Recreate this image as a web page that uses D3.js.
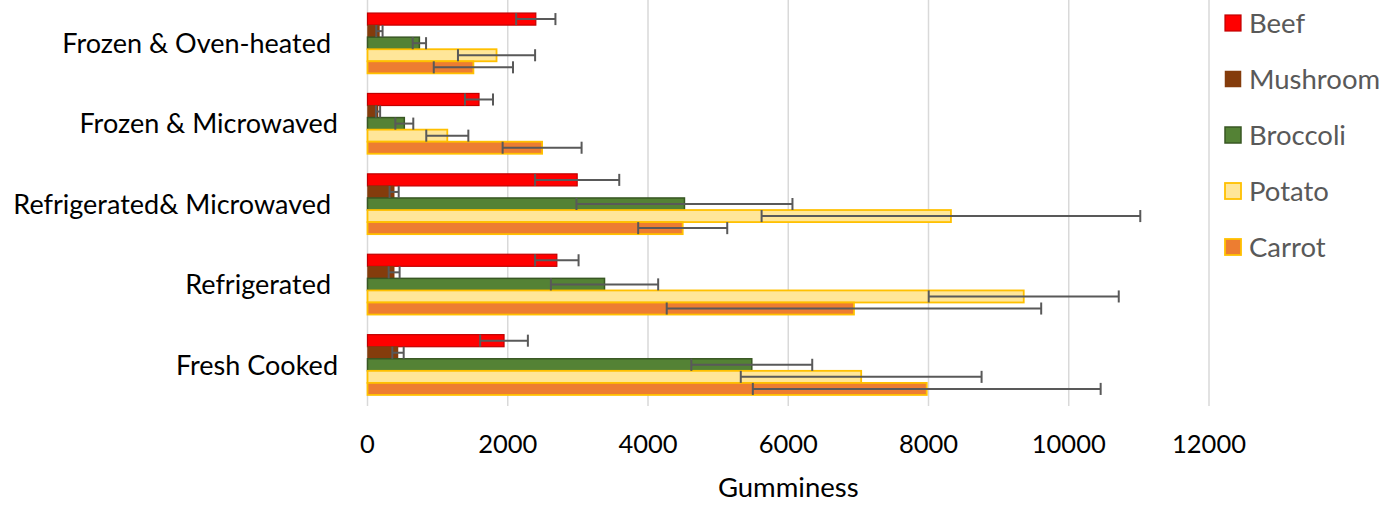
<!DOCTYPE html>
<html>
<head>
<meta charset="utf-8">
<script src="https://cdn.jsdelivr.net/npm/d3@7"></script>
<style>
  html, body { margin: 0; padding: 0; background: #fff; }
  svg { display: block; font-family: Lato, "Open Sans", sans-serif; }
  text { white-space: pre; }
</style>
</head>
<body>
<svg id="chart" width="1384" height="505"></svg>
<script>
// ---- Data ----
const categories = ["Frozen & Oven-heated ", "Frozen & Microwaved", "Refrigerated& Microwaved ", "Refrigerated ", "Fresh Cooked"];
const seriesNames = ["Beef", "Mushroom", "Broccoli", "Potato", "Carrot"];

const beef        = [2400, 1590, 2990, 2700, 1947];
const beefErr     = [280, 200, 600, 310, 340];
const mushroom    = [170, 150, 380, 380, 435];
const mushroomErr = [45, 30, 65, 78, 81];
const broccoli    = [740, 525, 4520, 3380, 5480];
const broccoliErr = [95, 128, 1540, 765, 862];
const potato      = [1840, 1138, 8320, 9358, 7040];
const potatoErr   = [550, 300, 2700, 1355, 1717];
const carrot      = [1510, 2490, 4495, 6937, 7975];
const carrotErr   = [565, 563, 635, 2670, 2480];

const xTicks = [0, 2000, 4000, 6000, 8000, 10000, 12000];
const axisTitle = "Gumminess";

// ---- Styles ----
const styles = {
  Beef:     { fill: "#FF0000", stroke: "#C00000", sw: 1.2 },
  Mushroom: { fill: "#843C0C", stroke: "#843C0C", sw: 0.5 },
  Broccoli: { fill: "#548235", stroke: "#385723", sw: 1.5 },
  Potato:   { fill: "#FFE699", stroke: "#FFC000", sw: 1.8 },
  Carrot:   { fill: "#ED7D31", stroke: "#FFC000", sw: 1.8 }
};

const seriesData = [
  { name: "Beef", values: beef, errs: beefErr },
  { name: "Mushroom", values: mushroom, errs: mushroomErr },
  { name: "Broccoli", values: broccoli, errs: broccoliErr },
  { name: "Potato", values: potato, errs: potatoErr },
  { name: "Carrot", values: carrot, errs: carrotErr }
];

// ---- Layout ----
const svg = d3.select("#chart");
const plot = { left: 367.5, right: 1209, top: 3, bottom: 405 };

const x = d3.scaleLinear().domain([0, 12000]).range([plot.left, plot.right]);
const y0 = d3.scaleBand().domain(categories).range([plot.top, plot.bottom])
  .paddingInner(0.25).paddingOuter(0.125);
const y1 = d3.scaleBand().domain(seriesNames).range([0, y0.bandwidth()]);

// Gridlines
svg.append("g").selectAll("line").data(xTicks).join("line")
  .attr("x1", d => x(d)).attr("x2", d => x(d))
  .attr("y1", 0).attr("y2", 406)
  .attr("stroke", "#D9D9D9").attr("stroke-width", 1.5);

// Bars
const barsG = svg.append("g");
seriesData.forEach(s => {
  const st = styles[s.name];
  barsG.append("g").selectAll("rect").data(categories).join("rect")
    .attr("x", x(0))
    .attr("y", c => y0(c) + y1(s.name))
    .attr("width", (c, i) => x(s.values[i]) - x(0))
    .attr("height", y1.bandwidth())
    .attr("fill", st.fill)
    .attr("stroke", st.stroke)
    .attr("stroke-width", st.sw);
});

// Error bars
const errG = svg.append("g").attr("stroke", "#595959").attr("stroke-width", 2).attr("fill", "none");
seriesData.forEach(s => {
  categories.forEach((c, i) => {
    const yc = y0(c) + y1(s.name) + y1.bandwidth() / 2;
    const h = y1.bandwidth() / 2;
    const xl = x(s.values[i] - s.errs[i]);
    const xr = x(s.values[i] + s.errs[i]);
    errG.append("line").attr("x1", xl).attr("x2", xr).attr("y1", yc).attr("y2", yc);
    errG.append("line").attr("x1", xl).attr("x2", xl).attr("y1", yc - h).attr("y2", yc + h);
    errG.append("line").attr("x1", xr).attr("x2", xr).attr("y1", yc - h).attr("y2", yc + h);
  });
});

// X axis tick labels
svg.append("g").selectAll("text").data(xTicks).join("text")
  .attr("x", d => x(d)).attr("y", 453)
  .attr("text-anchor", "middle")
  .attr("font-size", 25.5)
  .attr("fill", "#000")
  .text(d => d);

// Category labels
svg.append("g").selectAll("text").data(categories).join("text")
  .attr("x", 338)
  .attr("y", c => y0(c) + y0.bandwidth() / 2)
  .attr("dy", "0.36em")
  .attr("text-anchor", "end")
  .attr("font-size", 27)
  .attr("fill", "#000")
  .text(c => c);

// Axis title
svg.append("text")
  .attr("x", (plot.left + plot.right) / 2).attr("y", 497)
  .attr("text-anchor", "middle")
  .attr("font-size", 27.5)
  .attr("fill", "#000")
  .text(axisTitle);

// Legend
const legend = svg.append("g");
seriesNames.forEach((n, i) => {
  const cy = 23 + i * 56;
  const st = styles[n];
  legend.append("rect")
    .attr("x", 1225).attr("y", cy - 8).attr("width", 16).attr("height", 16)
    .attr("fill", st.fill).attr("stroke", st.stroke).attr("stroke-width", st.sw);
  legend.append("text")
    .attr("x", 1249).attr("y", cy).attr("dy", "0.36em")
    .attr("font-size", 27.5)
    .attr("fill", "#595959")
    .text(n);
});
</script>
</body>
</html>
